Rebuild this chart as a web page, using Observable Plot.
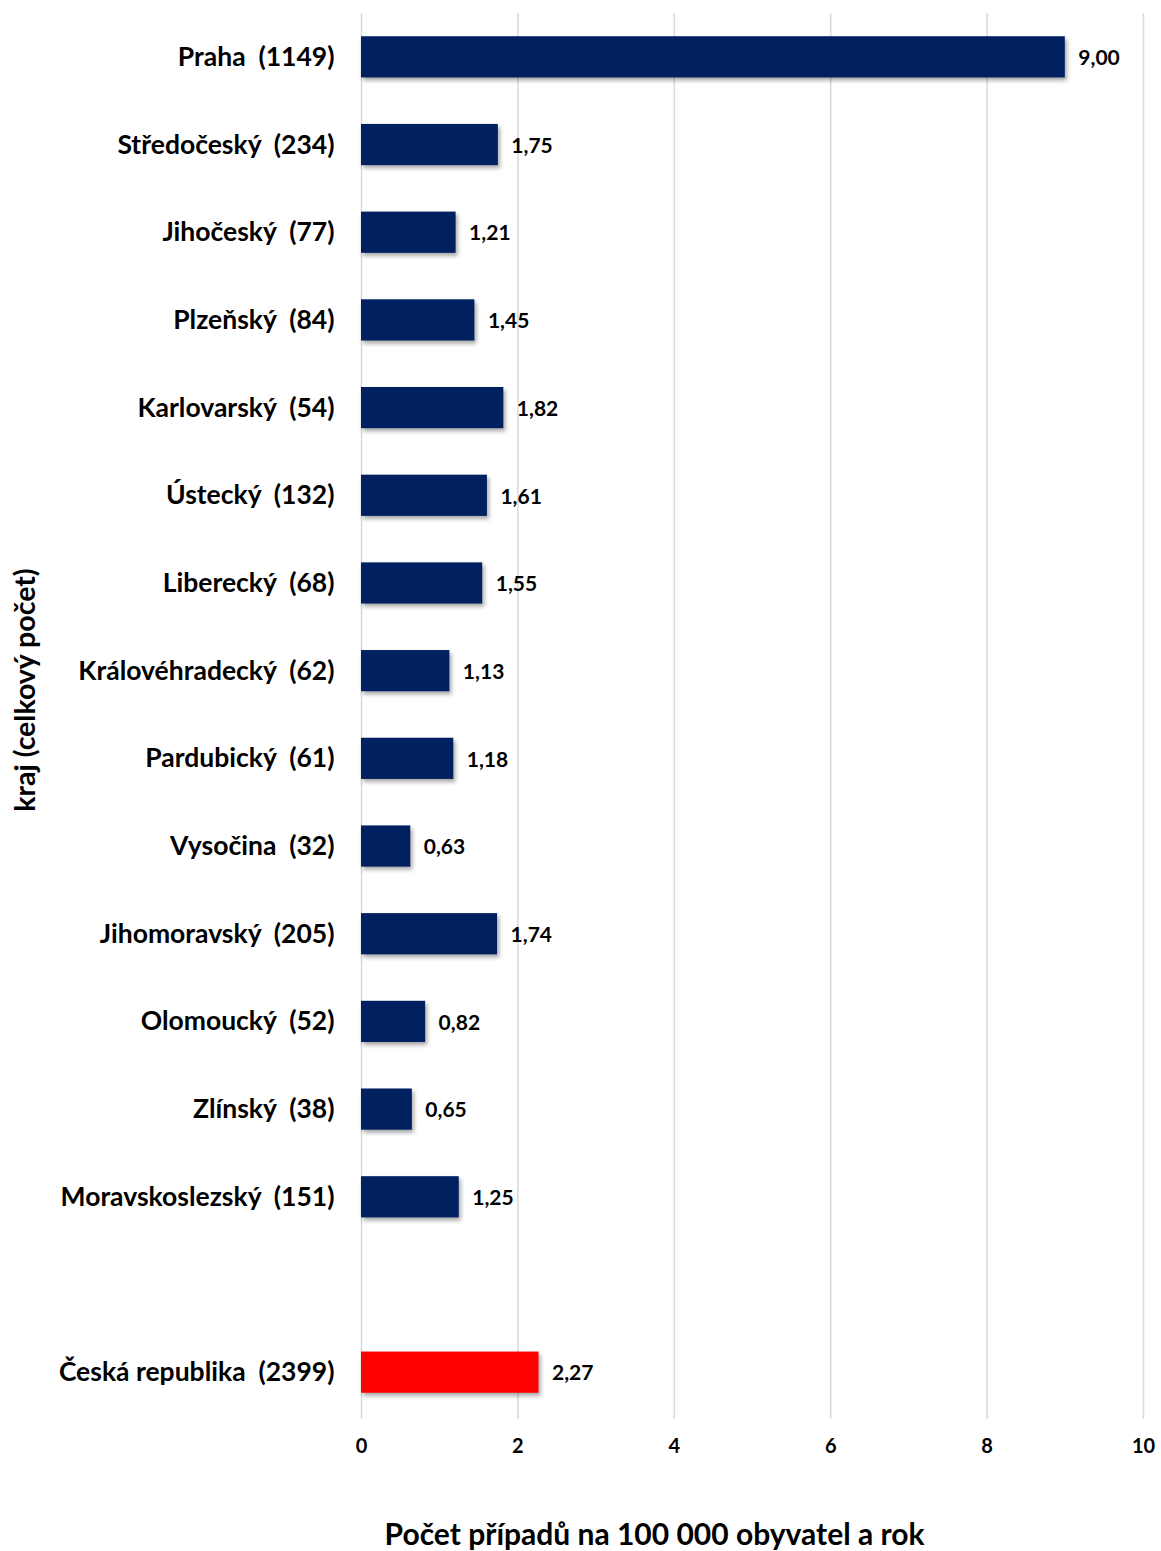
<!DOCTYPE html>
<html>
<head>
<meta charset="utf-8">
<script src="https://cdn.jsdelivr.net/npm/d3@7"></script>
<script src="https://cdn.jsdelivr.net/npm/@observablehq/plot@0.6"></script>
<style>
  html, body { margin: 0; padding: 0; background: #fff; }
  svg { font-family: Lato, "Open Sans", sans-serif; }
</style>
</head>
<body>
<div id="chart"></div>
<script>
const regions = ["Praha","Středočeský","Jihočeský","Plzeňský","Karlovarský","Ústecký","Liberecký","Královéhradecký","Pardubický","Vysočina","Jihomoravský","Olomoucký","Zlínský","Moravskoslezský","Česká republika"];
const counts = [1149,234,77,84,54,132,68,62,61,32,205,52,38,151,2399];
const rates = [9.00,1.75,1.21,1.45,1.82,1.61,1.55,1.13,1.18,0.63,1.74,0.82,0.65,1.25,2.27];
const xTicks = [0,2,4,6,8,10];
const xTitle = "Počet případů na 100 000 obyvatel a rok";
const yTitle = "kraj (celkový počet)";
const gapLabel = "\u2002";

const data = regions.map((r, i) => ({
  label: `${r}\u00a0\u00a0(${counts[i]})`,
  value: rates[i],
  total: r === "Česká republika"
}));
const domain = data.slice(0, 14).map(d => d.label).concat([gapLabel], [data[14].label]);
const fmt = v => v.toFixed(2).replace(".", ",");

const chart = Plot.plot({
  width: 1161,
  height: 1551,
  marginLeft: 361,
  marginRight: 18,
  marginTop: 13,
  marginBottom: 135,
  style: {fontFamily: "Lato, 'Open Sans', sans-serif", background: "#fff"},
  x: {domain: [0, 10], ticks: xTicks, label: null},
  y: {domain, paddingInner: 0.53, paddingOuter: 0.265, round: false, label: null},
  marks: [
    Plot.ruleX(xTicks, {stroke: "#d9d9d9", strokeWidth: 1.5, y1: null, y2: null, insetBottom: -3}),
    Plot.barX(data, {y: "label", x: "value", fill: d => d.total ? "#ff0000" : "#002060"}),
    Plot.text(data, {y: "label", x: "value", text: d => fmt(d.value), textAnchor: "start", dx: 13, dy: 1, fontSize: 21, fontWeight: "bold", fill: "#000"}),
    Plot.axisX({ticks: xTicks, tickSize: 0, tickPadding: 22, fontSize: 20, fontWeight: "bold", label: null, tickFormat: d => String(d)}),
    Plot.axisY({tickSize: 0, tickPadding: 27, fontSize: 26.5, fontWeight: "bold", label: null}),
    Plot.text([xTitle], {frameAnchor: "bottom", dy: 128, dx: -98, fontSize: 30, fontWeight: "bold", fill: "#000"}),
    Plot.text([yTitle], {frameAnchor: "left", textAnchor: "middle", dx: -336, dy: -25, rotate: -90, fontSize: 28.5, fontWeight: "bold", fill: "#000"})
  ]
});
d3.select(chart).selectAll('g[aria-label="bar"] rect').style("filter", "drop-shadow(2px 3px 2px rgba(0,0,0,0.35))");
d3.select(chart).selectAll('g[aria-label="y-axis tick label"] text, g[aria-label="x-axis tick label"] text').attr("fill", "#000");
document.getElementById("chart").appendChild(chart);
</script>
</body>
</html>
